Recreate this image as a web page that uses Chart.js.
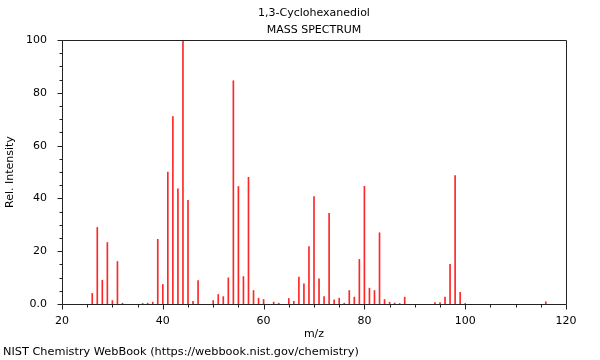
<!DOCTYPE html>
<html>
<head>
<meta charset="utf-8">
<script src="https://cdn.jsdelivr.net/npm/chart.js@4"></script>
<style>
html,body{margin:0;padding:0;background:#fff;}
#wrap{position:relative;width:600px;height:360px;}
#footer{position:absolute;left:3px;top:345px;font:11.3px "DejaVu Sans";color:#000;white-space:nowrap;}
</style>
</head>
<body>
<div id="wrap">
<canvas id="c" width="600" height="360"></canvas>
<div id="footer">NIST Chemistry WebBook (https://webbook.nist.gov/chemistry)</div>
</div>
<script>
const titleLines = ['1,3-Cyclohexanediol', 'MASS SPECTRUM'];
const xTitle = 'm/z';
const yTitle = 'Rel. Intensity';
const mz = [26,27,28,29,30,31,32,36,37,38,39,40,41,42,43,44,45,46,47,50,51,52,53,54,55,56,57,58,59,60,62,63,65,66,67,68,69,70,71,72,73,74,75,76,77,78,79,80,81,82,83,84,85,86,87,88,94,95,96,97,98,99,100,116];
const intensity = [4,29,9,23.3,1.3,16.1,0.3,0.2,0.3,0.7,24.5,7.4,50,71,43.6,100,39.3,1,8.9,1.3,3.6,2.8,9.9,84.6,44.5,10.4,48,5.1,2.2,1.7,0.7,0.3,2.1,1,10.2,7.6,21.8,40.7,9.5,2.8,34.4,1.6,2.2,0.3,5.1,2.6,16.9,44.6,6,5.1,27,1.7,0.7,0.4,0.2,2.6,0.5,0.5,2.6,15,48.7,4.4,0.2,0.8];
const xTickLabels = [20,40,60,80,100,120];
const yTickLabels = {0:'0.0',20:'20',40:'40',60:'60',80:'80',100:'100'};

const FONT = '"DejaVu Sans"';
const points = mz.map((m,i)=>({x:m,y:intensity[i]}));

const tickPlugin = {
  id:'ticksAndBox',
  afterDraw(chart){
    const ctx = chart.ctx, a = chart.chartArea;
    ctx.save();
    ctx.strokeStyle = '#222';
    ctx.lineWidth = 1;
    const L = Math.round(a.left)+0.5, R = Math.round(a.right)+0.5, T = Math.round(a.top)+0.5, B = Math.round(a.bottom)+0.5;
    ctx.beginPath();
    ctx.rect(L, T, R-L, B-T);
    ctx.stroke();
    const xs = chart.scales.x, ys = chart.scales.y;
    ctx.beginPath();
    xs.ticks.forEach(t=>{
      const px = Math.round(xs.getPixelForValue(t.value))+0.5;
      const len = (t.value % 20 === 0) ? 5 : 3;
      ctx.moveTo(px, B); ctx.lineTo(px, B+len);
    });
    ys.ticks.forEach(t=>{
      const py = Math.round(ys.getPixelForValue(t.value))+0.5;
      const len = (t.value % 20 === 0) ? 5 : 3;
      ctx.moveTo(L, py); ctx.lineTo(L-len, py);
    });
    ctx.stroke();
    ctx.restore();
  }
};

new Chart(document.getElementById('c'), {
  type:'bar',
  data:{datasets:[{data:points, backgroundColor:'rgba(255,0,0,0.85)', borderWidth:0, barThickness:1}]},
  options:{
    responsive:false,
    animation:false,
    layout:{padding:{left:0,right:34,top:0,bottom:18}},
    plugins:{
      legend:{display:false},
      tooltip:{enabled:false},
      title:{display:true,fullSize:false,text:titleLines,color:'#000',font:{family:FONT,size:11,weight:'normal',lineHeight:1.55},padding:{top:5,bottom:1}}
    },
    scales:{
      x:{
        type:'linear', min:20, max:120, offset:false,
        grid:{display:false}, border:{display:false},
        ticks:{stepSize:5, autoSkip:false, maxRotation:0, color:'#000', padding:3, font:{family:FONT,size:11},
          callback:(v)=> xTickLabels.includes(v) ? String(v) : ''},
        title:{display:true,text:xTitle,color:'#000',font:{family:FONT,size:11},padding:{top:1,bottom:1}},
        afterFit(s){ s.height = 38; }
      },
      y:{
        min:0, max:100,
        grid:{display:false}, border:{display:false},
        ticks:{stepSize:5, autoSkip:false, color:'#000', padding:7, font:{family:FONT,size:11},
          callback:(v)=> (v in yTickLabels) ? yTickLabels[v] : ''},
        title:{display:true,text:yTitle,color:'#000',font:{family:FONT,size:11},padding:{top:4,bottom:0}},
        afterFit(s){ s.width = 62; }
      }
    }
  },
  plugins:[tickPlugin]
});
</script>
</body>
</html>
